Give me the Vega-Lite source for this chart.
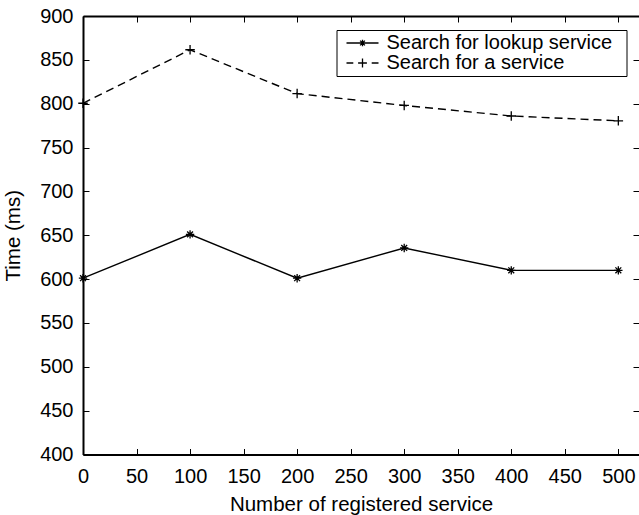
{
  "$schema": "https://vega.github.io/schema/vega-lite/v6.json",
  "width": 556,
  "height": 438.5,
  "autosize": {"type": "none"},
  "padding": {"left": 83, "top": 16, "right": 0, "bottom": 60},
  "background": "white",
  "config": {
    "view": {"stroke": null},
    "font": "Liberation Sans",
    "axis": {"labelFont": "Liberation Sans", "titleFont": "Liberation Sans", "labelFontSize": 20, "titleFontSize": 20.5, "titleFontWeight": "normal", "labelColor": "black", "titleColor": "black", "domainColor": "black", "tickColor": "black", "grid": false, "domainWidth": 2, "tickWidth": 1, "labelFlush": false}
  },
  "data": {"values": [
    {"n": 0, "time": 601, "series": "Search for lookup service"},
    {"n": 100, "time": 651, "series": "Search for lookup service"},
    {"n": 200, "time": 601, "series": "Search for lookup service"},
    {"n": 300, "time": 635.5, "series": "Search for lookup service"},
    {"n": 400, "time": 610, "series": "Search for lookup service"},
    {"n": 500, "time": 610, "series": "Search for lookup service"},
    {"n": 0, "time": 800.5, "series": "Search for a service"},
    {"n": 100, "time": 861.5, "series": "Search for a service"},
    {"n": 200, "time": 811.5, "series": "Search for a service"},
    {"n": 300, "time": 798, "series": "Search for a service"},
    {"n": 400, "time": 786, "series": "Search for a service"},
    {"n": 500, "time": 780.5, "series": "Search for a service"}
  ]},
  "layer": [
    {
      "transform": [{"filter": "datum.series === 'Search for lookup service'"}],
      "mark": {"type": "line", "color": "black", "strokeWidth": 1.4},
      "encoding": {
        "x": {"field": "n", "type": "quantitative", "scale": {"domain": [0, 519.3], "nice": false, "zero": false},
              "axis": {"values": [0, 50, 100, 150, 200, 250, 300, 350, 400, 450, 500], "title": "Number of registered service", "tickSize": -6, "labelPadding": 18, "titlePadding": 8, "labelFlush": false}},
        "y": {"field": "time", "type": "quantitative", "scale": {"domain": [400, 900], "nice": false, "zero": false},
              "axis": {"values": [400, 450, 500, 550, 600, 650, 700, 750, 800, 850, 900], "title": "Time (ms)", "tickSize": -6, "labelPadding": 16, "titlePadding": 16, "labelFlush": false}}
      }
    },
    {
      "transform": [{"filter": "datum.series === 'Search for a service'"}],
      "mark": {"type": "line", "color": "black", "strokeWidth": 1.4, "strokeDash": [8, 5]},
      "encoding": {
        "x": {"field": "n", "type": "quantitative", "axis": null},
        "y": {"field": "time", "type": "quantitative", "axis": null}
      }
    },
    {
      "transform": [{"filter": "datum.series === 'Search for lookup service'"}],
      "mark": {"type": "point", "filled": false, "color": "black", "strokeWidth": 1.3, "opacity": 1, "size": 70,
               "shape": "M-1,0H1M0,-1V1M-0.7,-0.7L0.7,0.7M0.7,-0.7L-0.7,0.7"},
      "encoding": {
        "x": {"field": "n", "type": "quantitative", "axis": null},
        "y": {"field": "time", "type": "quantitative", "axis": null}
      }
    },
    {
      "transform": [{"filter": "datum.series === 'Search for a service'"}],
      "mark": {"type": "point", "filled": false, "color": "black", "strokeWidth": 1.3, "opacity": 1, "size": 90,
               "shape": "M-1,0H1M0,-1V1"},
      "encoding": {
        "x": {"field": "n", "type": "quantitative", "axis": null},
        "y": {"field": "time", "type": "quantitative", "axis": null}
      }
    },
    {
      "mark": {"type": "point", "filled": false, "color": "black", "opacity": 1},
      "encoding": {
        "x": {"field": "n", "type": "quantitative", "axis": {"orient": "top", "values": [0, 50, 100, 150, 200, 250, 300, 350, 400, 450, 500], "labels": false, "title": null, "tickSize": -6}},
        "y": {"field": "time", "type": "quantitative", "axis": {"orient": "right", "values": [400, 450, 500, 550, 600, 650, 700, 750, 800, 850, 900], "labels": false, "title": null, "tickSize": -6, "domain": false}},
        "size": {"value": 0},
        "shape": {"field": "series", "type": "nominal",
          "scale": {"domain": ["Search for lookup service", "Search for a service"],
                    "range": ["M-2.0,0H2.0M0,-0.4V0.4M-0.3,-0.3L0.3,0.3M0.3,-0.3L-0.3,0.3", "M-2.0,0H-1.15M-0.55,0H0.55M0,-0.55V0.55M1.15,0H2.0"]},
          "legend": {
            "title": null, "orient": "none", "legendX": 253.5, "legendY": 14,
            "labelFont": "Liberation Sans", "labelFontSize": 20, "labelColor": "black", "labelLimit": 400,
            "labelExpr": "datum.label + '\u00a0\u00a0\u200b'",
            "symbolSize": 256, "symbolStrokeWidth": 1.3, "symbolStrokeColor": "black", "symbolOpacity": 1,
            "labelOffset": 14, "padding": 3, "symbolOffset": 13, "rowPadding": -1,
            "strokeColor": "black", "fillColor": "white",
            "encode": {"legend": {"update": {"strokeWidth": {"value": 1.6}}}}
          }
        }
      }
    }
  ],
  "resolve": {"axis": {"x": "independent", "y": "independent"}}
}
